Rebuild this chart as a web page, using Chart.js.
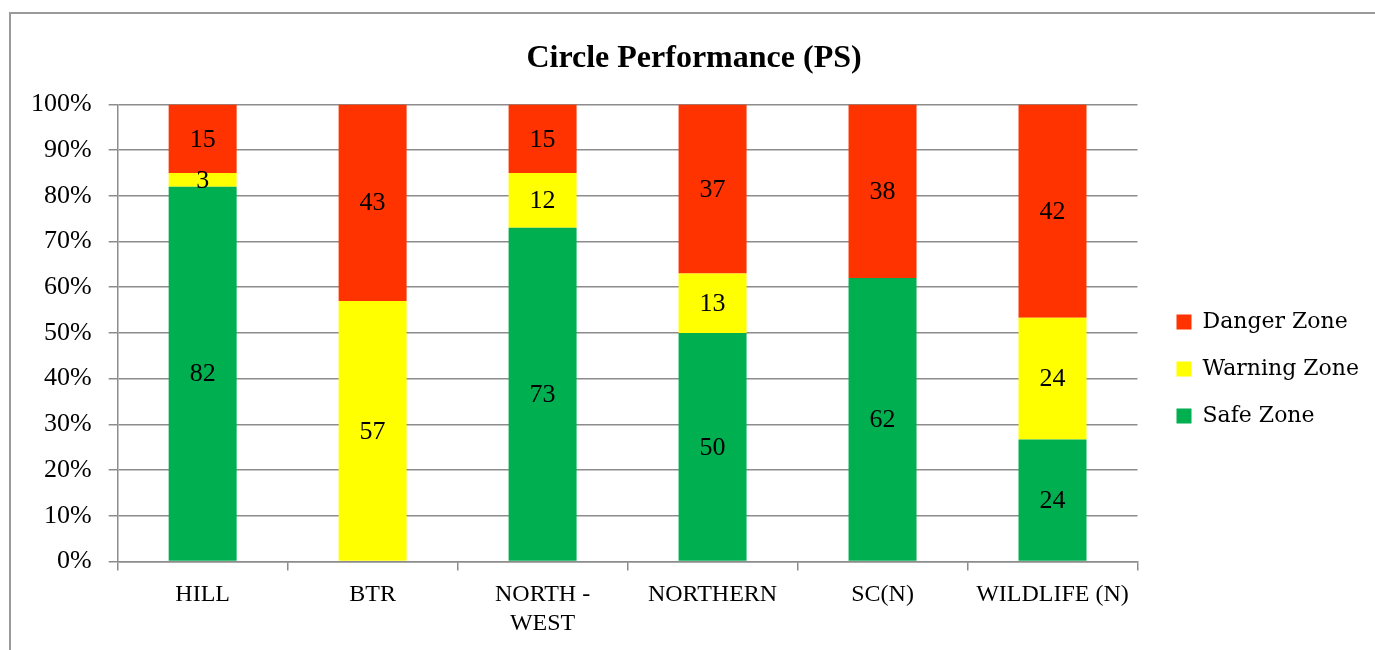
<!DOCTYPE html>
<html>
<head>
<meta charset="utf-8">
<script src="https://cdn.jsdelivr.net/npm/chart.js@4.4.0/dist/chart.umd.min.js"></script>
<style>
  html, body { margin: 0; padding: 0; background: #fff; overflow: hidden; }
  #frame { position: absolute; left: 9px; top: 12px; width: 1400px; height: 700px; border: 2px solid #9a9a9a; }
  #perf { position: absolute; left: 0; top: 0; }
</style>
</head>
<body>
<div id="frame"></div>
<canvas id="perf" width="1375" height="650"></canvas>
<script>
const circles = ['HILL', 'BTR', ['NORTH -', 'WEST'], 'NORTHERN', 'SC(N)', 'WILDLIFE (N)'];
const safeZone = [82, 0, 73, 50, 62, 24];
const warningZone = [3, 57, 12, 13, 0, 24];
const dangerZone = [15, 43, 15, 37, 38, 42];

// 100% stacked: share of each circle's total
const totals = circles.map((c, i) => safeZone[i] + warningZone[i] + dangerZone[i]);
const share = (arr) => arr.map((v, i) => v / totals[i] * 100);

const serif = 'Liberation Serif';

// writes the raw count in the middle of every segment
const segmentLabels = {
  id: 'segmentLabels',
  afterDatasetsDraw(chart) {
    const c = chart.ctx;
    c.save();
    c.font = '26px "' + serif + '"';
    c.fillStyle = '#000';
    c.textAlign = 'center';
    c.textBaseline = 'middle';
    chart.data.datasets.forEach((ds, di) => {
      chart.getDatasetMeta(di).data.forEach((bar, i) => {
        const v = ds.counts[i];
        if (!v) return;
        c.fillText(v, bar.x, (bar.y + bar.base) / 2 + 1);
      });
    });
    c.restore();
  }
};

// small nudges so title and legend sit where the original has them
const nudge = {
  id: 'nudge',
  afterLayout(chart) {
    chart.titleBlock.left += 19;
    const lg = chart.legend;
    lg.left += 14; lg.right += 14;
    lg.top += 25; lg.bottom += 25;
  }
};

new Chart('perf', {
  type: 'bar',
  data: {
    labels: circles,
    datasets: [
      { label: 'Safe Zone', data: share(safeZone), counts: safeZone, backgroundColor: '#00B050' },
      { label: 'Warning Zone', data: share(warningZone), counts: warningZone, backgroundColor: '#FFFF00' },
      { label: 'Danger Zone', data: share(dangerZone), counts: dangerZone, backgroundColor: '#FF3300' }
    ]
  },
  options: {
    responsive: false,
    animation: false,
    layout: { padding: { left: 14, right: 20, top: 40, bottom: 2 } },
    datasets: { bar: { categoryPercentage: 1, barPercentage: 0.4 } },
    scales: {
      x: {
        stacked: true,
        grid: { display: true, drawOnChartArea: false, offset: true, color: '#8c8c8c', lineWidth: 1.5, tickLength: 9 },
        border: { color: '#8c8c8c', width: 1.5 },
        ticks: { color: '#000', font: { family: serif, size: 24 }, padding: 10, maxRotation: 0, autoSkip: false }
      },
      y: {
        stacked: true,
        min: 0,
        max: 100,
        grid: { color: '#8c8c8c', lineWidth: 1.5, tickLength: 9 },
        border: { color: '#8c8c8c', width: 1.5 },
        ticks: { stepSize: 10, color: '#000', font: { family: serif, size: 26 }, padding: 17, callback: (v) => v + '%' }
      }
    },
    plugins: {
      title: {
        display: true,
        text: 'Circle Performance (PS)',
        color: '#000',
        font: { family: serif, size: 32, weight: 'bold' },
        padding: { top: 0, bottom: 26 }
      },
      legend: {
        position: 'right',
        reverse: true,
        labels: { color: '#000', font: { family: 'DejaVu Serif', size: 22 }, boxWidth: 15, boxHeight: 15, padding: 25 }
      },
      tooltip: { enabled: false }
    }
  },
  plugins: [segmentLabels, nudge]
});
</script>
</body>
</html>
